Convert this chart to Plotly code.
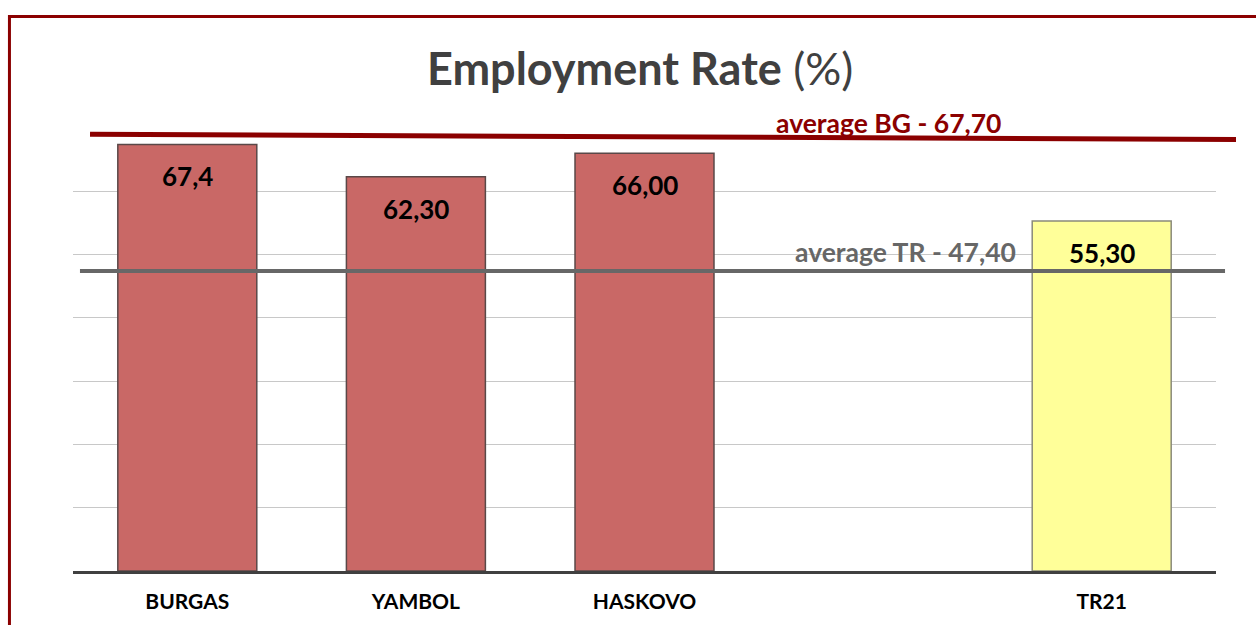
import plotly.graph_objects as go

categories = ["BURGAS", "YAMBOL", "HASKOVO", " ", "TR21"]
values = [67.4, 62.3, 66.0, None, 55.3]
value_labels = ["67,4", "62,30", "66,00", "", "55,30"]
bar_colors = ["#C96866", "#C96866", "#C96866", "#C96866", "#FFFF99"]
bar_lines = ["#5A4848", "#5A4848", "#5A4848", "#5A4848", "#8A8A7A"]

avg_bg = 67.70
avg_tr = 47.40
avg_bg_label = "average BG - 67,70"
avg_tr_label = "average TR - 47,40"

Y_MAX = 70
FONT = "Lato"

fig = go.Figure()
fig.add_trace(go.Bar(
    x=categories, y=values,
    marker=dict(color=bar_colors, line=dict(color=bar_lines, width=1.5)),
    hoverinfo="skip",
))

# data labels inside bars near the top
for c, v, t in zip(categories, values, value_labels):
    if v is None:
        continue
    fig.add_annotation(x=c, y=v, text=f"<b>{t}</b>", showarrow=False,
                       yanchor="middle", yshift=-32,
                       font=dict(family=FONT, size=26, color="#000000"))

# average lines (paper refs so they can run past the plot area like the original;
# BG line drawn slightly tilted as in the original)
fig.add_shape(type="line", xref="paper", yref="paper", x0=0.0149, x1=1.0175,
              y0=(avg_bg + 1.3) / Y_MAX, y1=(avg_bg + 0.5) / Y_MAX,
              line=dict(color="#8B0000", width=5), layer="above")
fig.add_shape(type="line", xref="paper", yref="paper", x0=0.0061, x1=1.0079,
              y0=avg_tr / Y_MAX, y1=avg_tr / Y_MAX,
              line=dict(color="#676767", width=4), layer="above")

fig.add_annotation(x=3.07, xref="x", yref="paper", y=1.011,
                   text=f"<b>{avg_bg_label}</b>",
                   showarrow=False, yanchor="middle",
                   font=dict(family=FONT, size=26.5, color="#8B0000"))
fig.add_annotation(x=3.14, y=avg_tr + 3.0, text=f"<b>{avg_tr_label}</b>",
                   showarrow=False, yanchor="middle",
                   font=dict(family=FONT, size=26.5, color="#676767"))

# title
fig.add_annotation(xref="paper", yref="paper", x=0.496, y=1.135,
                   text="<b>Employment Rate</b> (%)", showarrow=False,
                   xanchor="center", yanchor="middle",
                   font=dict(family=FONT, size=45, color="#404040"))

# outer frame
fig.add_shape(type="rect", xref="paper", yref="paper",
              x0=-0.0556, x1=1.2, y0=-0.4, y1=1.2517,
              line=dict(color="#8B0000", width=3), layer="below")

fig.update_layout(
    width=1256, height=625,
    margin=dict(l=73, r=40, t=128, b=54),
    paper_bgcolor="white", plot_bgcolor="white",
    bargap=0.392,
    showlegend=False,
    xaxis=dict(type="category", range=[-0.5, 4.5], autorange=False,
               automargin=False,
               showline=True, linecolor="#404040", linewidth=3,
               showgrid=False, ticks="", ticklabelstandoff=10,
               tickfont=dict(family=FONT, size=21, color="#000000"),
               tickvals=categories,
               ticktext=[f"<b>{c}</b>" for c in categories]),
    yaxis=dict(range=[0, Y_MAX], autorange=False, automargin=False,
               dtick=10, showticklabels=False,
               showgrid=True, gridcolor="#C8C8C8", gridwidth=1,
               zeroline=False),
)

fig.write_html("out.html", config={"displayModeBar": False},
               post_script="document.body.style.margin='0';document.body.style.overflow='hidden';")
